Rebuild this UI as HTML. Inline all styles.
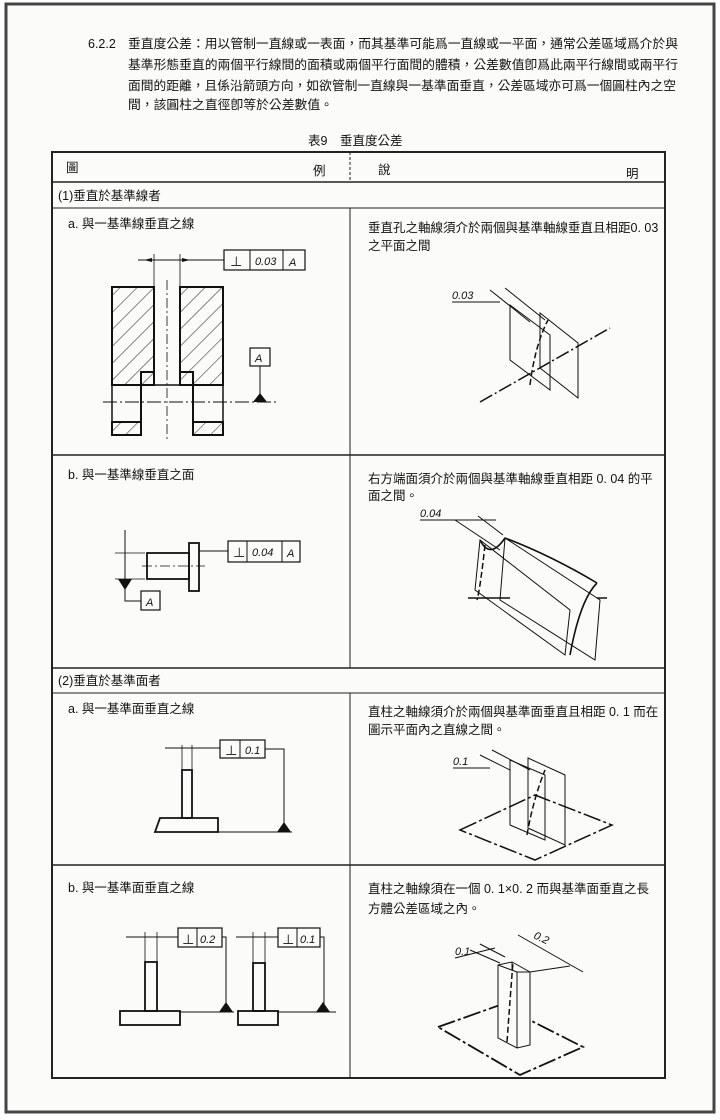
<!DOCTYPE html>
<html><head><meta charset="utf-8"><style>
html,body{margin:0;padding:0;background:#fff}
svg{display:block}
text{font-family:"Liberation Sans","Noto Sans CJK TC",sans-serif;fill:#111}
.t{font-size:12.5px}
.i{font-family:"Liberation Sans",sans-serif;font-style:italic;font-size:11px}
</style></head><body>
<svg width="720" height="1120" viewBox="0 0 720 1120" xmlns="http://www.w3.org/2000/svg">
<rect x="0" y="0" width="720" height="1120" fill="#fff"/>
<rect x="6" y="4" width="708" height="1108" fill="#fbfbf9" stroke="#444" stroke-width="3"/>

<text x="88" y="48" class="t">6.2.2</text>
<text x="128" y="48" class="t" textLength="550" lengthAdjust="spacingAndGlyphs">垂直度公差：用以管制一直線或一表面，而其基準可能爲一直線或一平面，通常公差區域爲介於與</text>
<text x="128" y="69" class="t" textLength="550" lengthAdjust="spacingAndGlyphs">基準形態垂直的兩個平行線間的面積或兩個平行面間的體積，公差數值卽爲此兩平行線間或兩平行</text>
<text x="128" y="90" class="t" textLength="548" lengthAdjust="spacingAndGlyphs">面間的距離，且係沿箭頭方向，如欲管制一直線與一基準面垂直，公差區域亦可爲一個圓柱內之空</text>
<text x="128" y="109" class="t" textLength="205" lengthAdjust="spacingAndGlyphs">間，該圓柱之直徑卽等於公差數值。</text>
<text x="308" y="145" class="t">表9　垂直度公差</text>

<g stroke="#222" fill="none">
<rect x="52" y="152" width="613" height="926" stroke-width="2"/>
<line x1="52" y1="182" x2="665" y2="182" stroke-width="1.5"/>
<line x1="52" y1="208" x2="665" y2="208" stroke-width="1"/>
<line x1="52" y1="455" x2="665" y2="455" stroke-width="1.5"/>
<line x1="52" y1="668" x2="665" y2="668" stroke-width="1.5"/>
<line x1="52" y1="693" x2="665" y2="693" stroke-width="1"/>
<line x1="52" y1="865" x2="665" y2="865" stroke-width="1.5"/>
<line x1="350" y1="152" x2="350" y2="182" stroke-width="1" stroke-dasharray="3,2"/>
<line x1="350" y1="208" x2="350" y2="668" stroke-width="1"/>
<line x1="350" y1="693" x2="350" y2="1078" stroke-width="1"/>
</g>
<text x="66" y="172" class="t">圖</text>
<text x="313" y="175" class="t">例</text>
<text x="378" y="174" class="t">說</text>
<text x="626" y="178" class="t">明</text>
<text x="58" y="200" class="t">(1)垂直於基準線者</text>
<text x="68" y="228" class="t">a.  與一基準線垂直之線</text>
<text x="368" y="232" class="t">垂直孔之軸線須介於兩個與基準軸線垂直且相距0. 03</text>
<text x="368" y="250" class="t">之平面之間</text>
<text x="68" y="479" class="t">b.  與一基準線垂直之面</text>
<text x="368" y="483" class="t">右方端面須介於兩個與基準軸線垂直相距  0. 04  的平</text>
<text x="368" y="500" class="t">面之間。</text>
<text x="58" y="685" class="t">(2)垂直於基準面者</text>
<text x="68" y="713" class="t">a.  與一基準面垂直之線</text>
<text x="368" y="716" class="t">直柱之軸線須介於兩個與基準面垂直且相距 0. 1 而在</text>
<text x="368" y="734" class="t">圖示平面內之直線之間。</text>
<text x="68" y="892" class="t">b.  與一基準面垂直之線</text>
<text x="368" y="893" class="t">直柱之軸線須在一個  0. 1×0. 2  而與基準面垂直之長</text>
<text x="368" y="913" class="t">方體公差區域之內。</text>

<defs>
<pattern id="h" width="12" height="12" patternUnits="userSpaceOnUse" patternTransform="rotate(45)">
<line x1="0" y1="0" x2="0" y2="12" stroke="#222" stroke-width="1"/></pattern>
</defs>

<g stroke="#111" fill="none">
<rect x="112" y="287" width="42" height="98" fill="url(#h)" stroke-width="2"/>
<rect x="180" y="287" width="43" height="98" fill="url(#h)" stroke-width="2"/>
<polyline points="154,287 154,372 141,372 141,435" stroke-width="2"/>
<polyline points="180,287 180,372 193,372 193,435" stroke-width="2"/>
<rect x="112" y="422" width="29" height="13" fill="url(#h)" stroke-width="2"/>
<rect x="193" y="422" width="30" height="13" fill="url(#h)" stroke-width="2"/>
<line x1="112" y1="385" x2="112" y2="422" stroke-width="1.5"/>
<line x1="223" y1="385" x2="223" y2="422" stroke-width="1.5"/>
<line x1="141" y1="385" x2="193" y2="385" stroke-width="1.5"/>
<line x1="167" y1="280" x2="167" y2="440" stroke-width="0.8" stroke-dasharray="10,3,2,3"/>
<line x1="103" y1="402" x2="277" y2="402" stroke-width="1" stroke-dasharray="14,3,2,3"/>
<line x1="154" y1="254" x2="154" y2="287" stroke-width="0.8"/>
<line x1="180" y1="254" x2="180" y2="287" stroke-width="0.8"/>
<line x1="138" y1="260" x2="224" y2="260" stroke-width="1"/>
<rect x="224" y="250" width="81" height="20" stroke-width="1.2"/>
<line x1="250" y1="250" x2="250" y2="270"/><line x1="283" y1="250" x2="283" y2="270"/>
<rect x="250" y="348" width="20" height="18" stroke-width="1.2"/>
<line x1="260" y1="366" x2="260" y2="395"/>
</g>
<polygon points="144,260 152,258 152,262" fill="#111"/><polygon points="190,260 182,258 182,262" fill="#111"/>
<polygon points="253,402 260,393 267,402" fill="#111"/>
<text x="230" y="266" class="t">⊥</text><text x="255" y="265" class="i">0.03</text><text x="289" y="266" class="i">A</text>
<text x="255" y="362" class="i">A</text>

<g stroke="#111" fill="none" stroke-width="1">
<line x1="452" y1="302" x2="500" y2="302"/>
<line x1="490" y1="290" x2="530" y2="322"/><line x1="505" y1="288" x2="545" y2="320"/>
<polygon points="510,305 550,335 550,390 510,360"/>
<polygon points="540,313 578,343 578,398 540,368"/>
<line x1="480" y1="402" x2="610" y2="328" stroke-width="1.5" stroke-dasharray="14,3,2,3"/>
<path d="M530,385 Q535,345 548,320" stroke-width="1.5" stroke-dasharray="6,3"/>
</g>
<text x="452" y="299" class="i">0.03</text>

<g stroke="#111" fill="none">
<rect x="147" y="553" width="42" height="26" stroke-width="1.8"/>
<rect x="189" y="543" width="10" height="48" stroke-width="1.8"/>
<line x1="142" y1="566" x2="205" y2="566" stroke-width="0.8" stroke-dasharray="10,3,2,3"/>
<line x1="199" y1="551" x2="228" y2="551"/>
<rect x="228" y="541" width="72" height="21" stroke-width="1.2"/>
<line x1="247" y1="541" x2="247" y2="562"/><line x1="282" y1="541" x2="282" y2="562"/>
<line x1="125" y1="530" x2="125" y2="600"/>
<line x1="115" y1="553" x2="145" y2="553" stroke-width="0.8"/>
<line x1="115" y1="579" x2="145" y2="579" stroke-width="0.8"/>
<polyline points="125,600 125,601 141,601"/>
<rect x="141" y="591" width="19" height="19" stroke-width="1.2"/>
</g>
<polygon points="118,579 132,579 125,590" fill="#111"/>
<text x="233" y="557" class="t">⊥</text><text x="252" y="556" class="i">0.04</text><text x="287" y="557" class="i">A</text>
<text x="146" y="606" class="i">A</text>

<g stroke="#111" fill="none" stroke-width="1">
<line x1="420" y1="520" x2="496" y2="520"/>
<line x1="455" y1="520" x2="500" y2="550"/><line x1="478" y1="516" x2="503" y2="535"/>
<polygon points="480,540 570,610 565,655 475,590"/>
<polygon points="505,538 600,600 595,660 500,600"/>
<path d="M480,540 Q490,560 505,538 M505,538 Q550,555 597,583 M597,583 Q580,600 570,655" stroke-width="1.6"/>
<path d="M485,545 Q480,590 477,600" stroke-width="1.5" stroke-dasharray="6,3"/>
<line x1="468" y1="598" x2="510" y2="598" stroke-width="1.5"/>
<line x1="597" y1="598" x2="607" y2="598" stroke-width="1.5"/>
</g>
<text x="420" y="517" class="i">0.04</text>

<g stroke="#111" fill="none">
<rect x="182" y="770" width="10" height="48" stroke-width="1.8"/>
<polygon points="160,818 218,818 218,832 155,832" stroke-width="1.8"/>
<line x1="182" y1="745" x2="182" y2="770" stroke-width="0.8"/>
<line x1="192" y1="745" x2="192" y2="770" stroke-width="0.8"/>
<line x1="165" y1="748" x2="220" y2="748"/>
<rect x="220" y="740" width="45" height="18" stroke-width="1.2"/>
<line x1="240" y1="740" x2="240" y2="758"/>
<polyline points="265,749 284,749 284,825"/>
<line x1="218" y1="832" x2="292" y2="832"/>
</g>
<polygon points="277,832 284,822 291,832" fill="#111"/>
<text x="225" y="755" class="t">⊥</text><text x="245" y="754" class="i">0.1</text>

<g stroke="#111" fill="none" stroke-width="1">
<line x1="453" y1="768" x2="490" y2="768"/>
<line x1="480" y1="755" x2="510" y2="770"/><line x1="492" y1="750" x2="530" y2="770"/>
<polygon points="460,830 535,795 612,825 535,860" stroke-width="1.5" stroke-dasharray="18,3,3,3"/>
<polygon points="510,760 545,775 545,840 510,825"/>
<polygon points="528,758 565,775 565,845 528,828"/>
<path d="M527,835 Q533,800 545,770" stroke-width="1.5" stroke-dasharray="6,3"/>
</g>
<text x="453" y="765" class="i">0.1</text>

<g stroke="#111" fill="none">
<rect x="145" y="962" width="12" height="49" stroke-width="1.8"/>
<rect x="120" y="1011" width="60" height="14" stroke-width="1.8"/>
<line x1="145" y1="932" x2="145" y2="962" stroke-width="0.8"/>
<line x1="157" y1="932" x2="157" y2="962" stroke-width="0.8"/>
<line x1="126" y1="937" x2="178" y2="937"/>
<rect x="178" y="928" width="44" height="19" stroke-width="1.2"/>
<line x1="197" y1="928" x2="197" y2="947"/>
<polyline points="222,937 226,937 226,1006"/>
<line x1="180" y1="1012" x2="234" y2="1012"/>
<rect x="253" y="963" width="12" height="48" stroke-width="1.8"/>
<rect x="238" y="1011" width="40" height="14" stroke-width="1.8"/>
<line x1="253" y1="932" x2="253" y2="963" stroke-width="0.8"/>
<line x1="265" y1="932" x2="265" y2="963" stroke-width="0.8"/>
<line x1="236" y1="937" x2="278" y2="937"/>
<rect x="278" y="928" width="42" height="19" stroke-width="1.2"/>
<line x1="297" y1="928" x2="297" y2="947"/>
<polyline points="320,937 324,937 324,1006"/>
<line x1="278" y1="1012" x2="336" y2="1012"/>
</g>
<polygon points="219,1012 226,1002 233,1012" fill="#111"/>
<polygon points="316,1012 323,1002 330,1012" fill="#111"/>
<text x="182" y="944" class="t">⊥</text><text x="200" y="943" class="i">0.2</text>
<text x="282" y="944" class="t">⊥</text><text x="300" y="943" class="i">0.1</text>

<g stroke="#111" fill="none" stroke-width="1">
<polygon points="438,1027 500,1005 583,1047 520,1075" stroke-width="1.8" stroke-dasharray="18,3,3,3"/>
<polygon points="498,965 512,962 530,972 530,1045 517,1048 498,1038" fill="#fbfbf9"/>
<line x1="512" y1="962" x2="512" y2="970"/>
<line x1="517" y1="972" x2="517" y2="1048"/>
<line x1="498" y1="965" x2="517" y2="972"/><line x1="517" y1="972" x2="530" y2="972"/>
<path d="M507,1042 Q510,1000 513,962" stroke-width="1.5" stroke-dasharray="6,3"/>
<line x1="455" y1="958" x2="495" y2="948"/>
<line x1="470" y1="950" x2="500" y2="963"/><line x1="480" y1="944" x2="505" y2="957"/>
<line x1="518" y1="935" x2="583" y2="972"/>
<line x1="530" y1="972" x2="570" y2="966"/>
</g>
<text x="455" y="955" class="i">0.1</text>
<text x="533" y="938" class="i" transform="rotate(25 533 938)">0.2</text>
</svg>
</body></html>
